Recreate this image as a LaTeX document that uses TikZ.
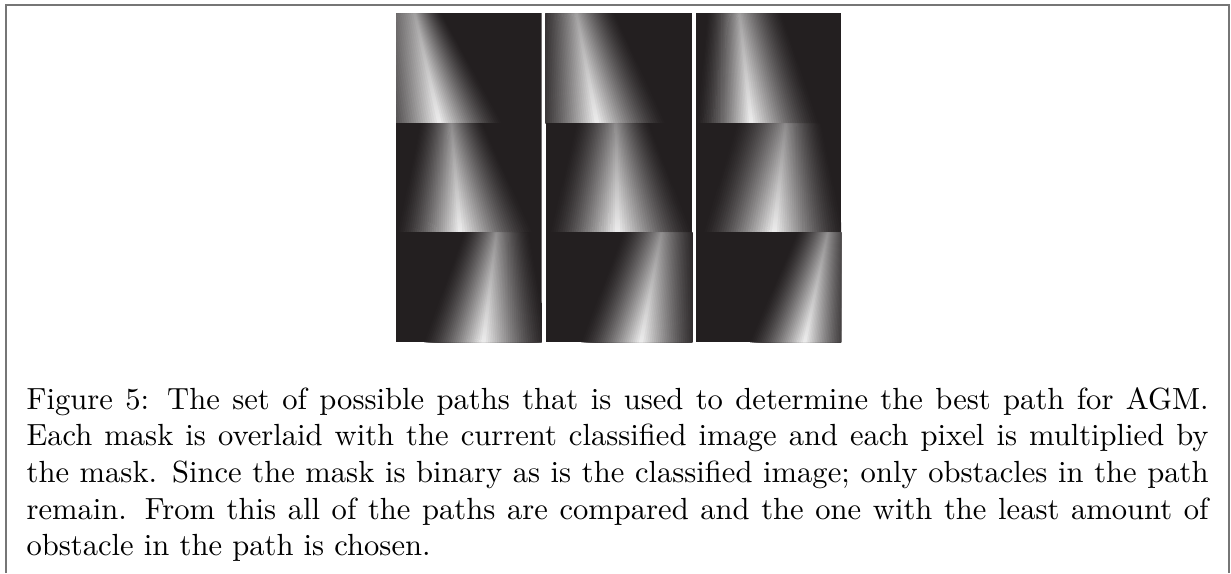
\documentclass[tikz,border=0pt]{standalone}
\usepackage{xcolor}
\definecolor{bgk}{RGB}{35,31,32}
\definecolor{framegray}{RGB}{118,118,118}
\tikzset{
  frameline/.style={draw=framegray, line width=0.5pt},
  captext/.style={anchor=base west, inner sep=0pt, font=\fontsize{10}{12}\selectfont}
}
\begin{document}
\begin{tikzpicture}[x=0.327pt,y=-0.327pt]
\useasboundingbox (0,0) rectangle (1231,573);
% frame (open at the bottom)
\draw[frameline] (6,573) -- (6,4.8) -- (1229,4.8) -- (1229,573);
% the nine path masks
\foreach \xa/\xb/\ya/\yb/\lt/\lb/\ct/\cb/\rt/\rb/\tb in {
  396/541.7/13.3/123.3/-0.28/-0.18/0.13/0.30/0.32/0.74/0.6,
  545.7/692.3/13.3/123.3/-0.08/-0.11/0.21/0.35/0.48/0.83/0.6,
  696/841/13.3/123.3/0.07/0.0/0.30/0.38/0.60/0.86/0.6,
  396/541.7/123.3/232.3/0.16/0.0/0.38/0.44/0.60/0.95/0.5,
  545.7/692.3/123.3/232.3/0.20/0.02/0.48/0.49/0.71/1.01/0.5,
  696/841/123.3/232.3/0.27/0.04/0.62/0.54/0.87/1.03/0.5,
  396/541.7/232.3/342.3/0.46/0.18/0.69/0.60/0.92/1.06/0.52,
  545.7/692.3/232.3/342.3/0.52/0.23/0.79/0.65/1.05/1.08/0.52,
  696/841/232.3/342.3/0.69/0.36/0.91/0.75/1.10/1.10/0.52}
{
  \begin{scope}
    \clip (\xa,\ya) rectangle (\xb,\yb);
    \fill[bgk] (\xa,\ya) rectangle (\xb,\yb);
    \pgfmathsetmacro\w{\xb-\xa}
    \foreach \k in {1,...,29} {
      \pgfmathsetmacro\t{\k/30}
      \pgfmathsetmacro\f{\t^1.4}
      \pgfmathsetmacro\ptop{100*\f*\tb}
      \pgfmathsetmacro\pbot{100*\f*0.96}
      \pgfmathsetmacro\xlt{\xa+\w*(\lt+\t*(\ct-\lt))}
      \pgfmathsetmacro\xlb{\xa+\w*(\lb+\t*(\cb-\lb))}
      \pgfmathsetmacro\xrt{\xa+\w*(\rt+\t*(\ct-\rt))}
      \pgfmathsetmacro\xrb{\xa+\w*(\rb+\t*(\cb-\rb))}
      \shade[top color={white!\ptop!bgk}, bottom color={white!\pbot!bgk}]
        (\xlt,\ya) -- (\xrt,\ya) -- (\xrb,\yb) -- (\xlb,\yb) -- cycle;
    }
  \end{scope}
}
% caption
\node[captext] (cap) at (26,409) {\parbox[t]{386.5pt}{\parindent=0pt
Figure 5: The set of possible paths that is used to determine the best path for AGM.\linebreak
Each mask is overlaid with the current classified image and each pixel is multiplied by\linebreak
the mask. Since the mask is binary as is the classified image; only obstacles in the path\linebreak
remain. From this all of the paths are compared and the one with the least amount of\linebreak
obstacle in the path is chosen.}};
\end{tikzpicture}
\end{document}
